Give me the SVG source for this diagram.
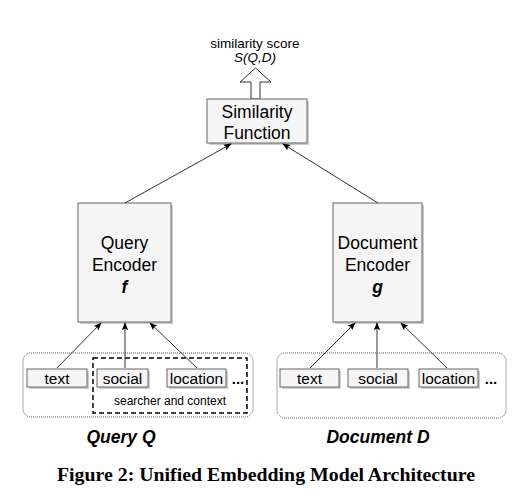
<svg xmlns="http://www.w3.org/2000/svg" width="517" height="503" viewBox="0 0 517 503">
<style>
.box{fill:#f5f5f5;stroke:#666;stroke-width:1}
.shadow{fill:#999;opacity:0.5}
.lbl{font-family:"Liberation Sans",Arial,sans-serif;fill:#000;text-anchor:middle}
.grp{fill:none;stroke:#555;stroke-width:1;stroke-dasharray:1 1}
.conn{stroke:#333;stroke-width:1;fill:none;marker-end:url(#ah)}
</style>
<defs>
<marker id="ah" viewBox="0 0 10 10" refX="9" refY="5" markerWidth="8" markerHeight="8" orient="auto" markerUnits="userSpaceOnUse">
<path d="M0,1 L10,5 L0,9 L2,5 Z" fill="#000"/>
</marker>
</defs>
<rect width="517" height="503" fill="#fff"/>

<g id="output">
<text class="lbl" x="255" y="48" font-size="13.5">similarity score</text>
<text class="lbl" x="255" y="62" font-size="13.5" font-style="italic">S(Q,D)</text>
<path d="M251,99 L251,82 L240,82 L255.5,68 L271,82 L260,82 L260,99 Z" fill="#fff" stroke="#333" stroke-width="1"/>
</g>

<g id="similarity">
<rect class="shadow" x="209" y="101" width="100" height="44"/>
<rect class="box" x="207" y="99" width="100" height="44"/>
<text class="lbl" x="257" y="118" font-size="17.5">Similarity</text>
<text class="lbl" x="257" y="139" font-size="17.5">Function</text>
</g>

<g id="query-encoder">
<rect class="shadow" x="80" y="205" width="93" height="119"/>
<rect class="box" x="78" y="203" width="93" height="119"/>
<text class="lbl" x="124.5" y="249" font-size="17.5">Query</text>
<text class="lbl" x="124.5" y="271" font-size="17.5">Encoder</text>
<text class="lbl" x="124.5" y="293" font-size="17.5" font-weight="bold" font-style="italic">f</text>
</g>

<g id="document-encoder">
<rect class="shadow" x="335" y="205" width="89" height="119"/>
<rect class="box" x="333" y="203" width="89" height="119"/>
<text class="lbl" x="377.5" y="249" font-size="17.5">Document</text>
<text class="lbl" x="377.5" y="271" font-size="17.5">Encoder</text>
<text class="lbl" x="377.5" y="293" font-size="17.5" font-weight="bold" font-style="italic">g</text>
</g>

<g id="query-group">
<rect class="grp" x="23" y="353" width="230" height="64" rx="8"/>
<rect x="93" y="358" width="154" height="55" fill="none" stroke="#000" stroke-width="1.5" stroke-dasharray="5 3"/>
<text class="lbl" x="170" y="405" font-size="12">searcher and context</text>
<text class="lbl" x="121" y="443" font-size="17.5" font-weight="bold" font-style="italic">Query Q</text>
</g>
<g id="q-text">
<rect class="shadow" x="29" y="371" width="60" height="18"/>
<rect class="box" x="27" y="369" width="60" height="18"/>
<text class="lbl" x="57" y="384" font-size="15.5">text</text>
</g>
<g id="q-social">
<rect class="shadow" x="99" y="371" width="51" height="18"/>
<rect class="box" x="97" y="369" width="51" height="18"/>
<text class="lbl" x="122.5" y="384" font-size="15.5">social</text>
</g>
<g id="q-location">
<rect class="shadow" x="169" y="371" width="59" height="18"/>
<rect class="box" x="167" y="369" width="59" height="18"/>
<text class="lbl" x="196.5" y="384" font-size="15.5">location</text>
</g>
<text class="lbl" x="238" y="384" font-size="15" font-weight="bold">...</text>

<g id="document-group">
<rect class="grp" x="277" y="353" width="229" height="65" rx="8"/>
<text class="lbl" x="378" y="443" font-size="17.5" font-weight="bold" font-style="italic">Document D</text>
</g>
<g id="d-text">
<rect class="shadow" x="282" y="371" width="59" height="18"/>
<rect class="box" x="280" y="369" width="59" height="18"/>
<text class="lbl" x="309.5" y="384" font-size="15.5">text</text>
</g>
<g id="d-social">
<rect class="shadow" x="350" y="371" width="60" height="18"/>
<rect class="box" x="348" y="369" width="60" height="18"/>
<text class="lbl" x="378" y="384" font-size="15.5">social</text>
</g>
<g id="d-location">
<rect class="shadow" x="421" y="371" width="59" height="18"/>
<rect class="box" x="419" y="369" width="59" height="18"/>
<text class="lbl" x="448.5" y="384" font-size="15.5">location</text>
</g>
<text class="lbl" x="491" y="384" font-size="15" font-weight="bold">...</text>

<g id="connectors">
<line class="conn" x1="125" y1="203" x2="231" y2="144"/>
<line class="conn" x1="378" y1="203" x2="283" y2="144"/>
<line class="conn" x1="57" y1="368" x2="101" y2="323"/>
<line class="conn" x1="125" y1="368" x2="125" y2="323"/>
<line class="conn" x1="197" y1="368" x2="150" y2="323"/>
<line class="conn" x1="310" y1="368" x2="355" y2="323"/>
<line class="conn" x1="377" y1="368" x2="377" y2="323"/>
<line class="conn" x1="447" y1="368" x2="401" y2="323"/>
</g>

<text x="266" y="481" font-family="'Liberation Serif','Times New Roman',serif" font-size="19" font-weight="bold" text-anchor="middle" textLength="418" lengthAdjust="spacingAndGlyphs" fill="#000">Figure 2: Unified Embedding Model Architecture</text>
</svg>
